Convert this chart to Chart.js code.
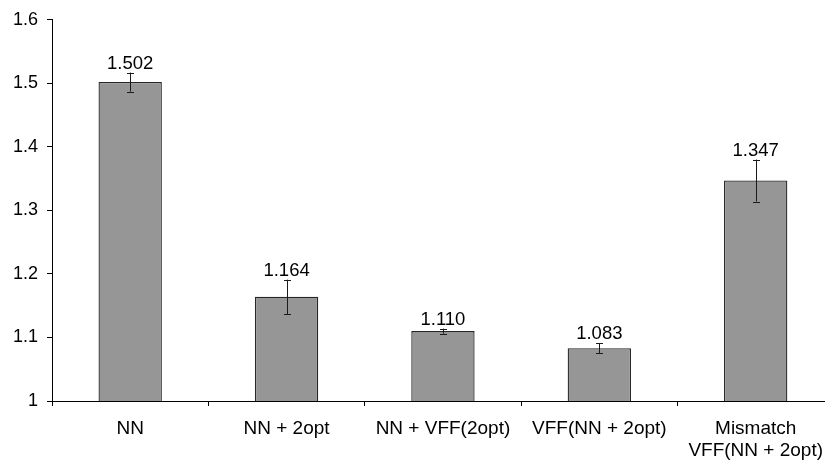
<!DOCTYPE html>
<html>
<head>
<meta charset="utf-8">
<script src="https://cdn.jsdelivr.net/npm/chart.js@4/dist/chart.umd.min.js"></script>
<style>
html,body{margin:0;padding:0;background:#fff;overflow:hidden;width:825px;height:464px;}
#wrap{position:absolute;left:0;top:0;width:834px;height:464px;}
</style>
</head>
<body>
<div id="wrap"><canvas id="c" width="834" height="464"></canvas></div>
<script>
const categories = ["NN", "NN + 2opt", "NN + VFF(2opt)", "VFF(NN + 2opt)", ["Mismatch", "VFF(NN + 2opt)"]];
const values = [1.502, 1.164, 1.110, 1.083, 1.347];
const errors = [0.015, 0.027, 0.004, 0.008, 0.033];
const valueLabels = ["1.502", "1.164", "1.110", "1.083", "1.347"];
const yTickLabels = {"1": "1", "1.1": "1.1", "1.2": "1.2", "1.3": "1.3", "1.4": "1.4", "1.5": "1.5", "1.6": "1.6"};

const FONT = "'Liberation Sans', Arial, sans-serif";

const errorPlugin = {
  id: 'errbars',
  afterDatasetsDraw(chart) {
    const ctx = chart.ctx;
    const meta = chart.getDatasetMeta(0);
    const y = chart.scales.y;
    ctx.save();
    meta.data.forEach((bar, i) => {
      const x = bar.x;
      const top = y.getPixelForValue(values[i] + errors[i]);
      const bot = y.getPixelForValue(values[i] - errors[i]);
      ctx.strokeStyle = '#1a1a1a';
      ctx.lineWidth = 1;
      ctx.beginPath();
      ctx.moveTo(Math.round(x) + 0.5, top);
      ctx.lineTo(Math.round(x) + 0.5, bot);
      ctx.moveTo(Math.round(x) - 3, Math.round(top) + 0.5);
      ctx.lineTo(Math.round(x) + 4, Math.round(top) + 0.5);
      ctx.moveTo(Math.round(x) - 3, Math.round(bot) + 0.5);
      ctx.lineTo(Math.round(x) + 4, Math.round(bot) + 0.5);
      ctx.stroke();
      ctx.fillStyle = '#000';
      ctx.font = "18.5px " + FONT;
      ctx.textAlign = 'center';
      ctx.textBaseline = 'alphabetic';
      ctx.fillText(valueLabels[i], x, top - 4);
    });
    ctx.restore();
  }
};

new Chart(document.getElementById('c'), {
  type: 'bar',
  data: {
    labels: categories,
    datasets: [{
      data: values,
      backgroundColor: '#969696',
      borderColor: '#262626',
      borderWidth: 1.3,
      barPercentage: 0.405,
      categoryPercentage: 1.0
    }]
  },
  options: {
    responsive: false,
    animation: false,
    events: [],
    layout: { padding: { top: 17, right: 0, left: 0, bottom: 0 } },
    plugins: { legend: { display: false }, tooltip: { enabled: false } },
    scales: {
      x: {
        offset: true,
        grid: { offset: true, drawOnChartArea: false, drawTicks: true, tickLength: 5, color: '#000', lineWidth: 1 },
        border: { display: true, color: '#000', width: 1 },
        ticks: { color: '#000', font: { family: FONT, size: 19 }, padding: 11, maxRotation: 0, autoSkip: false },
        afterFit(s) { s.height = 63; }
      },
      y: {
        min: 1, max: 1.6,
        grid: { drawOnChartArea: false, drawTicks: true, tickLength: 5, color: '#000', lineWidth: 1 },
        border: { display: true, color: '#000', width: 1 },
        ticks: {
          stepSize: 0.1, color: '#000', font: { family: FONT, size: 18 }, padding: 9,
          callback: (v) => yTickLabels[String(Math.round(v * 10) / 10)]
        },
        afterFit(s) { s.width = 52; }
      }
    }
  },
  plugins: [errorPlugin]
});
</script>
</body>
</html>
